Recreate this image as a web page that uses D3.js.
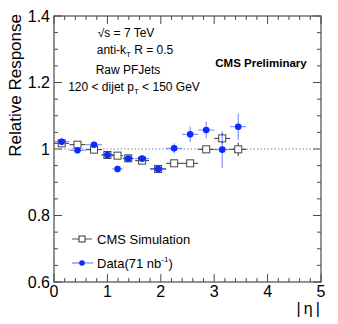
<!DOCTYPE html>
<html><head><meta charset="utf-8">
<script src="https://cdn.jsdelivr.net/npm/d3@7"></script>
<style>body{margin:0;background:#fff}svg{display:block}text{font-family:"Liberation Sans",Arial,sans-serif;fill:#000}</style>
</head><body><svg id="c" width="338" height="324"></svg>
<script>
const eta      = [0.144, 0.44, 0.75, 1.0, 1.19, 1.39, 1.65, 1.95, 2.25, 2.55, 2.85, 3.15, 3.45];
const etaErr   = [0.14, 0.15, 0.15, 0.11, 0.1, 0.1, 0.13, 0.15, 0.15, 0.15, 0.15, 0.15, 0.15];
const dataResp = [1.022, 0.996, 1.013, 0.982, 0.940, 0.971, 0.971, 0.940, 1.002, 1.044, 1.057, 0.998, 1.067];
const dataErr  = [0.012, 0.008, 0.010, 0.010, 0.010, 0.008, 0.010, 0.012, 0.015, 0.023, 0.025, 0.055, 0.040];
const simResp  = [1.017, 1.013, 0.998, 0.982, 0.980, 0.972, 0.965, 0.940, 0.957, 0.957, 0.999, 1.032, 0.999];
const simErr   = [0.004, 0.004, 0.004, 0.004, 0.004, 0.004, 0.004, 0.004, 0.004, 0.004, 0.006, 0.015, 0.020];
const xTicks = [0, 1, 2, 3, 4, 5];
const yTicks = [0.6, 0.8, 1, 1.2, 1.4];

const svg = d3.select("#c");
const x = d3.scaleLinear().domain([0, 5]).range([54, 321]);
const y = d3.scaleLinear().domain([0.6, 1.4]).range([282, 16]);
const frameCol = "#4a4a4a";
const blue = "#0a2cff";

// frame
svg.append("rect").attr("x", x(0)).attr("y", y(1.4)).attr("width", x(5)-x(0)).attr("height", y(0.6)-y(1.4))
  .attr("fill", "none").attr("stroke", frameCol).attr("stroke-width", 1.2);

// ticks
const g = svg.append("g").attr("stroke", frameCol).attr("stroke-width", 1);
d3.range(0, 5.001, 0.2).forEach(v => {
  const major = Math.abs(v - Math.round(v)) < 1e-6;
  const L = major ? 8 : 4;
  g.append("line").attr("x1", x(v)).attr("x2", x(v)).attr("y1", y(0.6)).attr("y2", y(0.6)-L);
  g.append("line").attr("x1", x(v)).attr("x2", x(v)).attr("y1", y(1.4)).attr("y2", y(1.4)+L);
});
d3.range(0.6, 1.4001, 0.05).forEach(v => {
  const major = Math.abs(v*5 - Math.round(v*5)) < 1e-6;
  const L = major ? 8 : 4;
  g.append("line").attr("y1", y(v)).attr("y2", y(v)).attr("x1", x(0)).attr("x2", x(0)+L);
  g.append("line").attr("y1", y(v)).attr("y2", y(v)).attr("x1", x(5)).attr("x2", x(5)-L);
});

// tick labels
svg.append("g").selectAll("text").data(xTicks).join("text")
  .attr("x", d => x(d)).attr("y", 297).attr("text-anchor", "middle").attr("font-size", 16).text(d => d);
svg.append("g").selectAll("text").data(yTicks).join("text")
  .attr("x", 50).attr("y", d => y(d) + 5.5).attr("text-anchor", "end").attr("font-size", 16)
  .text(d => d3.format("~g")(d));

// axis titles
svg.append("text").attr("transform", "translate(21,14) rotate(-90)").attr("text-anchor", "end")
  .attr("font-size", 17).text("Relative Response");
svg.append("text").attr("x", 320).attr("y", 314).attr("text-anchor", "end").attr("font-size", 16).text("|\u2009η\u2009|");

// dotted line at 1
svg.append("line").attr("x1", x(0)).attr("x2", x(5)).attr("y1", y(1)).attr("y2", y(1))
  .attr("stroke", "#888").attr("stroke-width", 1.2).attr("stroke-dasharray", "1.5,2");

// simulation
const sim = svg.append("g");
eta.forEach((e, i) => {
  sim.append("line").attr("x1", x(e-etaErr[i])).attr("x2", x(e+etaErr[i])).attr("y1", y(simResp[i])).attr("y2", y(simResp[i]))
    .attr("stroke", "#333").attr("stroke-width", 1);
  sim.append("line").attr("x1", x(e)).attr("x2", x(e)).attr("y1", y(simResp[i]-simErr[i])).attr("y2", y(simResp[i]+simErr[i]))
    .attr("stroke", "#333").attr("stroke-width", 1);
  sim.append("rect").attr("x", x(e)-3.5).attr("y", y(simResp[i])-3.5).attr("width", 7).attr("height", 7)
    .attr("fill", "#fff").attr("stroke", "#444").attr("stroke-width", 1);
});

// data
const dat = svg.append("g");
eta.forEach((e, i) => {
  dat.append("line").attr("x1", x(e-etaErr[i])).attr("x2", x(e+etaErr[i])).attr("y1", y(dataResp[i])).attr("y2", y(dataResp[i]))
    .attr("stroke", blue).attr("stroke-opacity", 0.6).attr("stroke-width", 1);
  dat.append("line").attr("x1", x(e)).attr("x2", x(e)).attr("y1", y(dataResp[i]-dataErr[i])).attr("y2", y(dataResp[i]+dataErr[i]))
    .attr("stroke", blue).attr("stroke-opacity", 0.6).attr("stroke-width", 1);
  dat.append("circle").attr("cx", x(e)).attr("cy", y(dataResp[i])).attr("r", 3.3).attr("fill", blue);
});

// info text
const info = svg.append("g").attr("font-size", 12).attr("text-anchor", "middle");
const yInfo = [37, 54, 74, 91];
info.append("text").attr("x", 126).attr("y", yInfo[0]).text("√s = 7 TeV");
const t1 = info.append("text").attr("x", 135).attr("y", yInfo[1]);
t1.append("tspan").text("anti-k");
t1.append("tspan").attr("font-size", 8).attr("dy", 3).text("T");
t1.append("tspan").attr("dy", -3).text(" R = 0.5");
info.append("text").attr("x", 128).attr("y", yInfo[2]).text("Raw PFJets");
const t3 = info.append("text").attr("x", 134).attr("y", yInfo[3]);
t3.append("tspan").text("120 < dijet p");
t3.append("tspan").attr("font-size", 8).attr("dy", 3).text("T");
t3.append("tspan").attr("dy", -3).text(" < 150 GeV");

svg.append("text").attr("x", 261).attr("y", 67).attr("text-anchor", "middle").attr("font-size", 11.5)
  .attr("font-weight", "bold").text("CMS Preliminary");

// legend
const lg = svg.append("g").attr("font-size", 13);
lg.append("line").attr("x1", 72).attr("x2", 92).attr("y1", 239).attr("y2", 239).attr("stroke", "#555");
lg.append("rect").attr("x", 79).attr("y", 236).attr("width", 6).attr("height", 6).attr("fill", "#fff").attr("stroke", "#333");
lg.append("text").attr("x", 97).attr("y", 244).text("CMS Simulation");
lg.append("line").attr("x1", 72).attr("x2", 93).attr("y1", 263).attr("y2", 263).attr("stroke", blue).attr("stroke-opacity", 0.7);
lg.append("circle").attr("cx", 82).attr("cy", 263).attr("r", 2.8).attr("fill", blue);
const lt = lg.append("text").attr("x", 97).attr("y", 268);
lt.append("tspan").text("Data(71 nb");
lt.append("tspan").attr("font-size", 8).attr("dy", -6).text("-1");
lt.append("tspan").attr("dy", 6).text(")");
</script></body></html>
